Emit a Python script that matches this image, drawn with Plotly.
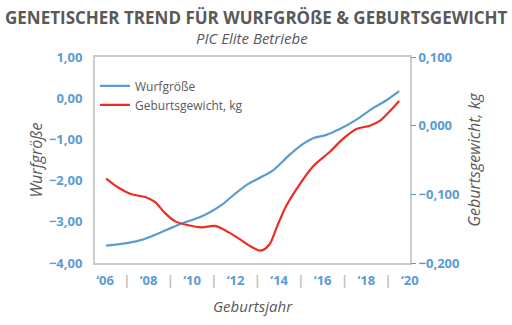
import plotly.graph_objects as go

# Wurfgröße (left axis) – year positions and values
wurf_jahr = [2006.05, 2007.07, 2007.68, 2008.29, 2008.90, 2009.52, 2010.13, 2010.74,
             2011.36, 2011.97, 2012.58, 2013.11, 2013.72, 2014.49, 2015.10, 2015.56,
             2016.17, 2016.78, 2017.55, 2018.31, 2018.93, 2019.51]
wurfgroesse = [-3.58, -3.51, -3.44, -3.32, -3.18, -3.04, -2.93, -2.79,
               -2.59, -2.32, -2.08, -1.93, -1.75, -1.37, -1.11, -0.97,
               -0.89, -0.75, -0.52, -0.24, -0.05, 0.17]

# Geburtsgewicht in kg (right axis)
gew_jahr = [2006.05, 2006.61, 2007.23, 2007.84, 2008.29, 2008.75, 2009.21, 2009.82,
            2010.44, 2011.05, 2011.66, 2012.27, 2012.70, 2013.15, 2013.55, 2013.90,
            2014.34, 2014.95, 2015.56, 2016.33, 2016.94, 2017.55, 2018.16, 2018.62,
            2019.08, 2019.51]
geburtsgewicht = [-0.077, -0.090, -0.100, -0.104, -0.111, -0.127, -0.139, -0.145,
                  -0.148, -0.146, -0.155, -0.167, -0.176, -0.182, -0.173, -0.147,
                  -0.116, -0.085, -0.059, -0.038, -0.019, -0.005, 0.000, 0.007,
                  0.021, 0.036]

# x-axis labels: even years labelled, odd years get a small separator
jahre = list(range(2006, 2021))
jahr_labels = [
    f"‘{j % 100:02d}" if j % 2 == 0 else "<span style='color:#BFBFBF'>|</span>"
    for j in jahre
]

links_ticks = [1, 0, -1, -2, -3, -4]
rechts_ticks = [0.1, 0.0, -0.1, -0.2]

BLAU = "#5B9BD5"
ROT = "#EE2C24"
GRAU = "#595959"
RAHMEN = "#C9CDCD"
FONT = "Open Sans"

fig = go.Figure()
fig.add_trace(go.Scatter(
    x=wurf_jahr, y=wurfgroesse, name="Wurfgröße", mode="lines",
    line=dict(color=BLAU, width=2.2, shape="spline", smoothing=0.9),
))
fig.add_trace(go.Scatter(
    x=gew_jahr, y=geburtsgewicht, name="Geburtsgewicht, kg", mode="lines",
    line=dict(color=ROT, width=2.2, shape="spline", smoothing=0.9),
    yaxis="y2",
))

fig.update_layout(
    width=512, height=325,
    margin=dict(l=95, r=102, t=57, b=55),
    paper_bgcolor="white", plot_bgcolor="white",
    separators=",.",
    font=dict(family=FONT, color=GRAU),
    showlegend=True,
    legend=dict(
        x=0.0, y=0.93, xanchor="left", yanchor="top",
        bgcolor="rgba(0,0,0,0)", font=dict(size=12, color=GRAU),
        itemwidth=30, tracegroupgap=0,
    ),
    xaxis=dict(
        range=[2005.54, 2020.01],
        tickmode="array", tickvals=jahre, ticktext=jahr_labels,
        tickfont=dict(size=13, color=BLAU, family=FONT, weight="bold"),
        showgrid=False, zeroline=False,
        showline=True, mirror=True, linecolor=RAHMEN, linewidth=2,
        ticks="", ticklabelstandoff=4,
        title=dict(text="<i>Geburtsjahr</i>", font=dict(size=15, color=GRAU), standoff=14),
    ),
    yaxis=dict(
        range=[-4, 1],
        tickmode="array", tickvals=links_ticks, tickformat=".2f",
        tickfont=dict(size=13, color=BLAU, family=FONT, weight="bold"),
        showgrid=False, zeroline=False,
        showline=True, mirror=True, linecolor=RAHMEN, linewidth=2,
        ticks="", ticklabelstandoff=8,
        title=dict(text="<i>Wurfgröße</i>", font=dict(size=16, color=GRAU), standoff=2),
    ),
    yaxis2=dict(
        range=[-0.2, 0.1], overlaying="y", side="right",
        tickmode="array", tickvals=rechts_ticks, tickformat=".3f",
        tickfont=dict(size=13, color=BLAU, family=FONT, weight="bold"),
        showgrid=False, zeroline=False, showline=False,
        ticks="outside", ticklen=5, tickcolor=BLAU, tickwidth=1,
        title=dict(text="<i>Geburtsgewicht, kg</i>", font=dict(size=16, color=GRAU), standoff=10),
    ),
    annotations=[
        dict(text="<b>GENETISCHER TREND FÜR WURFGRÖßE & GEBURTSGEWICHT</b>",
             xref="paper", yref="paper",
             x=(256 - 95) / 315, y=1 + (57 - 16) / 213,
             xanchor="center", yanchor="middle", showarrow=False,
             font=dict(size=17, color=GRAU, family=FONT)),
        dict(text="<i>PIC Elite Betriebe</i>",
             xref="paper", yref="paper",
             x=(252 - 95) / 315, y=1 + (57 - 37) / 213,
             xanchor="center", yanchor="middle", showarrow=False,
             font=dict(size=15, color=GRAU, family=FONT)),
    ],
)

fig.write_html("out.html")
